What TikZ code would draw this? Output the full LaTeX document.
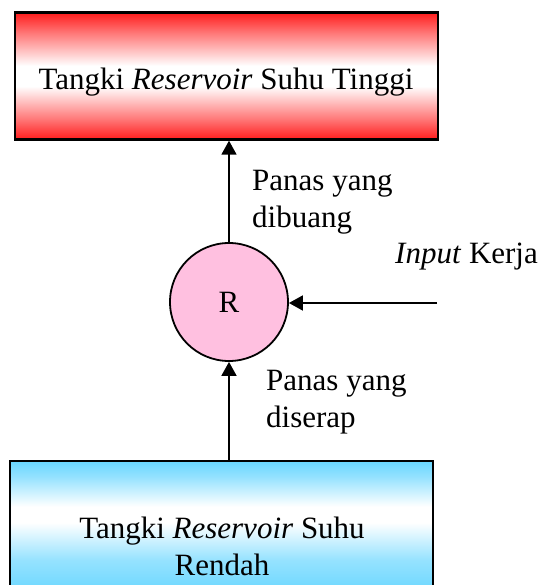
\documentclass[tikz,border=0pt]{standalone}
\usepackage{fontspec}
\setmainfont{Liberation Serif}
\usetikzlibrary{arrows.meta}
\definecolor{hotred}{RGB}{255,28,28}
\definecolor{coldblue}{RGB}{104,214,255}
\definecolor{rpink}{RGB}{255,192,224}
% TikZ maps a shaded path onto the band 25bp..75bp of a 100bp shading
\pgfdeclareverticalshading{hotshade}{100bp}{
  color(0bp)=(hotred); color(25bp)=(hotred); color(33bp)=(hotred!60!white);
  color(46bp)=(white); color(54bp)=(white);
  color(67bp)=(hotred!60!white); color(75bp)=(hotred); color(100bp)=(hotred)}
\pgfdeclareverticalshading{coldshade}{100bp}{
  color(0bp)=(coldblue); color(25bp)=(coldblue); color(38bp)=(coldblue!70!white);
  color(52bp)=(white); color(58bp)=(white);
  color(69bp)=(coldblue!70!white); color(75bp)=(coldblue); color(100bp)=(coldblue)}
\tikzset{
  tank/.style={draw=black, line width=2.4pt, minimum width=423pt, inner sep=0pt},
  lbl/.style={inner sep=0pt, anchor=base west, align=left},
  flow/.style={line width=1.8pt, -{Triangle[length=14pt,width=15pt]}},
}
\begin{document}
\begin{tikzpicture}[x=1pt,y=-1pt, font=\fontsize{31}{37}\selectfont]
\useasboundingbox (0,0) rectangle (542,585);
\clip (0,0) rectangle (542,585);
% hot reservoir
\node[tank, shading=hotshade, minimum height=127pt] (hot) at (226.5,76) {};
\node[anchor=base, inner sep=0pt] (hottext) at (226,90) {Tangki \textit{Reservoir} Suhu Tinggi};
% cold reservoir (runs past the lower edge)
\node[tank, shading=coldshade, minimum height=134pt] (cold) at (221.5,528) {};
\node[anchor=base, inner sep=0pt, align=center] (coldtext) at (222,575) {Tangki \textit{Reservoir} Suhu\\Rendah};
% refrigerator
\node[circle, draw=black, line width=1.8pt, fill=rpink, minimum size=118pt, inner sep=0pt] (R) at (229,302) {R};
\coordinate (work) at (437,303);
% flows
\draw[flow] (R.north) -- (R.north |- hot.south);
\draw[flow] (R.south |- cold.north) -- (R.south);
\draw[flow] (work) -- (R.east |- work);
% labels
\node[lbl] (out) at (252,227) {Panas yang\\dibuang};
\node[lbl] (in) at (266,427) {Panas yang\\diserap};
\node[lbl] (w) at (395,263) {\textit{Input} Kerja};
\end{tikzpicture}
\end{document}
